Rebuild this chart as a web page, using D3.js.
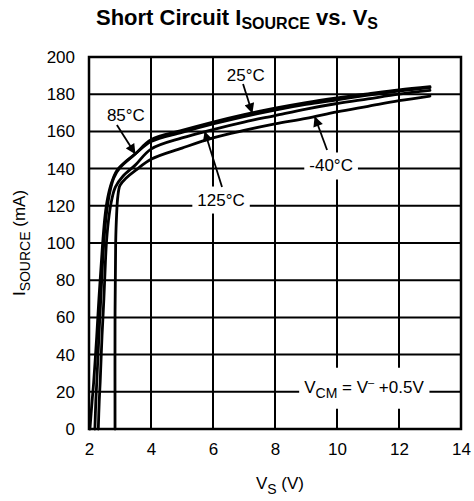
<!DOCTYPE html>
<html>
<head>
<meta charset="utf-8">
<script src="https://cdn.jsdelivr.net/npm/d3@7"></script>
<style>
  html, body { margin: 0; padding: 0; background: #fff; }
  svg { display: block; }
  text { font-family: "Liberation Sans", Arial, Helvetica, sans-serif; fill: #000; }
</style>
</head>
<body>
<svg id="chart" width="474" height="501"></svg>
<script>
// Short-circuit source current vs. supply voltage, one curve per temperature.
// Each point is [supply voltage V_S (V), I_SOURCE (mA)].
const curve25 = [[2.19,0],[2.22,15],[2.25,25],[2.32,50],[2.38,70],[2.44,90],[2.5,105],[2.58,118],[2.68,128],[2.8,135],[3,140.5],[3.5,148],[4,155.5],[5,160.5],[6,165],[7,169],[8,172.5],[9,175.5],[10,178],[11,180.2],[12,182.3],[13,184]];
const curve85 = [[2.03,0],[2.1,15],[2.15,25],[2.25,50],[2.32,70],[2.4,90],[2.45,102],[2.52,115],[2.6,124],[2.72,132],[2.9,139],[3.2,144],[3.5,148],[4,154.5],[5,159.5],[6,164],[7,168],[8,171.5],[9,174.5],[10,177],[11,179.5],[12,181.7],[13,183.5]];
const curve125 = [[2.3,0],[2.33,15],[2.36,25],[2.42,50],[2.48,70],[2.53,90],[2.57,102],[2.65,115],[2.73,123],[2.85,130],[3.1,136],[3.5,142],[4,150.5],[5,156.5],[6,161],[7,165],[8,168.5],[9,172],[10,175],[11,177.5],[12,180],[13,182]];
const curveM40 = [[2.84,0],[2.84,60],[2.86,100],[2.89,115],[2.93,125],[3.0,131],[3.2,135],[3.5,139],[4,145],[5,151],[6,156.5],[7,160.5],[8,164],[9,167],[10,170.5],[11,173.5],[12,176.5],[13,179]];

const xTicks = [2, 4, 6, 8, 10, 12, 14];
const yTicks = [0, 20, 40, 60, 80, 100, 120, 140, 160, 180, 200];

// Curve labels: text anchor, arrow tail and arrow tip, all in data units.
const tempLabels = ["25°C", "85°C", "125°C", "-40°C"];
const labelAt   = [[7.06,190.3],[3.19,168.8],[6.26,123.1],[9.81,141.4]];
const arrowFrom = [[6.97,185.5],[2.9,163.4],[6.29,130.1],[9.68,150]];
const arrowTo   = [[7.26,170.2],[3.48,148.2],[5.74,159.6],[9.29,167.6]];

const margin = { left: 89, right: 13, top: 57, bottom: 72 };
const W = 474, H = 501;
const svg = d3.select("#chart");

const x = d3.scaleLinear().domain([2, 14]).range([margin.left, W - margin.right]);
const y = d3.scaleLinear().domain([0, 200]).range([H - margin.bottom, margin.top]);

svg.append("defs").append("marker")
  .attr("id", "tip").attr("viewBox", "0 0 10 10")
  .attr("refX", 9).attr("refY", 5)
  .attr("markerUnits", "userSpaceOnUse")
  .attr("markerWidth", 11).attr("markerHeight", 10)
  .attr("orient", "auto")
  .append("path").attr("d", "M0,0 L10,5 L0,10 Z").attr("fill", "#000");

// Grid
const grid = svg.append("g");
grid.selectAll("line.v").data(xTicks.slice(1, -1)).join("line")
  .attr("x1", d => x(d)).attr("x2", d => x(d))
  .attr("y1", y(0)).attr("y2", y(200))
  .attr("stroke", "#000").attr("stroke-width", 2);
grid.selectAll("line.h").data(yTicks.slice(1, -1)).join("line")
  .attr("x1", x(2)).attr("x2", x(14))
  .attr("y1", d => y(d)).attr("y2", d => y(d))
  .attr("stroke", "#000").attr("stroke-width", 2);

// Axis tick labels
const xAxis = d3.axisBottom(x).tickValues(xTicks).tickSize(0).tickPadding(14);
svg.append("g").attr("transform", `translate(0,${y(0)})`).call(xAxis)
  .call(g => g.select(".domain").remove())
  .selectAll("text").attr("font-size", 17).attr("font-family", null);
const yAxis = d3.axisLeft(y).tickValues(yTicks).tickSize(0).tickPadding(14);
svg.append("g").attr("transform", `translate(${x(2)},0)`).call(yAxis)
  .call(g => g.select(".domain").remove())
  .selectAll("text").attr("font-size", 17).attr("font-family", null);

// White backgrounds behind labels that sit on grid lines
const ann = svg.append("g");
const textsG = svg.append("g");

// Curves
const line = d3.line().x(d => x(d[0])).y(d => y(d[1])).curve(d3.curveCatmullRom.alpha(0.5));
svg.append("g").selectAll("path").data([curveM40, curve125, curve85, curve25]).join("path")
  .attr("d", line).attr("fill", "none").attr("stroke", "#000")
  .attr("stroke-width", 2.8).attr("stroke-linejoin", "round").attr("stroke-linecap", "round");

// Plot frame
svg.append("rect").attr("x", x(2)).attr("y", y(200))
  .attr("width", x(14) - x(2)).attr("height", y(0) - y(200))
  .attr("fill", "none").attr("stroke", "#000").attr("stroke-width", 2.5);

// Temperature labels with arrows
tempLabels.forEach((t, i) => {
  const tx = textsG.append("text")
    .attr("x", x(labelAt[i][0])).attr("y", y(labelAt[i][1]))
    .attr("text-anchor", "middle").attr("dominant-baseline", "central")
    .attr("font-size", 17).text(t);
  const b = tx.node().getBBox();
  ann.append("rect").attr("x", b.x - 5).attr("y", b.y - 4)
    .attr("width", b.width + 10).attr("height", b.height + 8).attr("fill", "#fff");
  textsG.append("line")
    .attr("x1", x(arrowFrom[i][0])).attr("y1", y(arrowFrom[i][1]))
    .attr("x2", x(arrowTo[i][0])).attr("y2", y(arrowTo[i][1]))
    .attr("stroke", "#000").attr("stroke-width", 1.8).attr("marker-end", "url(#tip)");
});

// Common-mode note
const vcm = textsG.append("text").attr("x", x(10.87)).attr("y", y(19.5))
  .attr("text-anchor", "middle").attr("font-size", 17);
vcm.append("tspan").text("V");
vcm.append("tspan").attr("font-size", 14).attr("dy", 5).text("CM");
vcm.append("tspan").attr("dy", -5).text(" = V");
vcm.append("tspan").attr("font-size", 11).attr("dy", -7).text("–");
vcm.append("tspan").attr("dy", 7).text(" +0.5V");
{
  const b = vcm.node().getBBox();
  ann.append("rect").attr("x", b.x - 5).attr("y", b.y - 8)
    .attr("width", b.width + 10).attr("height", b.height + 16).attr("fill", "#fff");
}

// Title
const title = svg.append("text").attr("x", 237).attr("y", 25)
  .attr("text-anchor", "middle").attr("font-size", 22).attr("font-weight", "bold");
title.append("tspan").text("Short Circuit I");
title.append("tspan").attr("font-size", 16).attr("dy", 4).text("SOURCE");
title.append("tspan").attr("dy", -4).text(" vs. V");
title.append("tspan").attr("font-size", 16).attr("dy", 4).text("S");

// Axis titles
const xt = svg.append("text").attr("x", 280).attr("y", 489)
  .attr("text-anchor", "middle").attr("font-size", 17);
xt.append("tspan").text("V");
xt.append("tspan").attr("font-size", 14).attr("dy", 5).text("S");
xt.append("tspan").attr("dy", -5).text(" (V)");

const yt = svg.append("text")
  .attr("transform", `translate(25,${(y(0) + y(200)) / 2}) rotate(-90)`)
  .attr("text-anchor", "middle").attr("font-size", 17);
yt.append("tspan").text("I");
yt.append("tspan").attr("font-size", 14).attr("dy", 5).text("SOURCE");
yt.append("tspan").attr("dy", -5).text(" (mA)");
</script>
</body>
</html>
